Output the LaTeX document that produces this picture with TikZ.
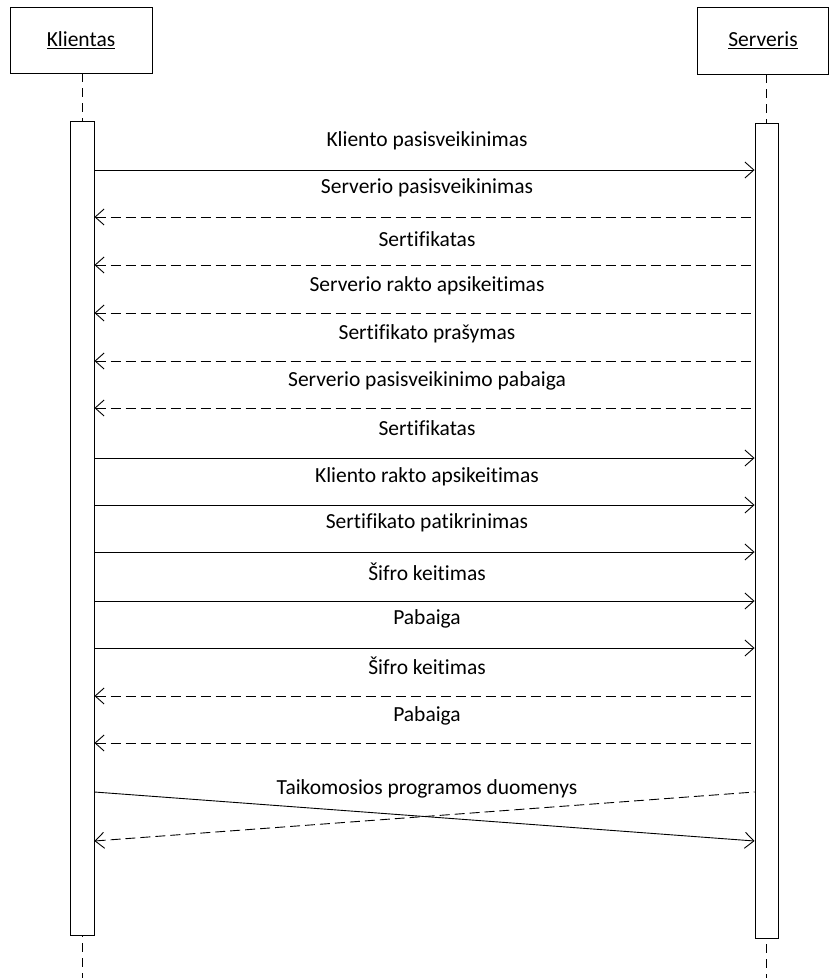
\documentclass[tikz,border=0pt]{standalone}
\usepackage{fontspec}
\setmainfont[Ligatures=NoCommon]{Carlito}
\usetikzlibrary{arrows.meta,positioning}

\begin{document}
\begin{tikzpicture}[
  x=1pt, y=-1pt,
  every node/.style={font=\fontsize{21.5}{25}\selectfont},
  actor/.style={draw, line width=0.9pt, inner sep=0pt},
  act/.style={draw, fill=white, line width=0.9pt, minimum width=24pt, inner sep=0pt},
  life/.style={line width=0.9pt, dash pattern=on 9pt off 6pt},
  lbl/.style={inner sep=0pt},
  req/.style={-{Straight Barb[length=9pt,width=16pt,line width=0.9pt]}, line width=0.9pt},
  resp/.style={{Straight Barb[length=9pt,width=16pt,line width=0.9pt]}-, line width=0.9pt, dash pattern=on 10pt off 5pt}
]
\useasboundingbox (0,0) rectangle (829,978);

% lifelines
\node[actor, minimum width=142pt, minimum height=66pt] (klientas) at (81,40) {\underline{Klientas}};
\node[actor, minimum width=131pt, minimum height=67pt] (serveris) at (763,40.5) {\underline{Serveris}};
\coordinate (kend) at (82,978);
\coordinate (send) at (766.5,978);
\draw[life] (klientas.south -| kend) -- (kend);
\draw[life] (serveris.south -| send) -- (send);
\node[act, minimum height=814pt] (kact) at (82,528) {};
\node[act, minimum width=23pt, minimum height=815pt] (sact) at (766.5,530.5) {};

% messages
\node[lbl] (l1) at (427,141) {Kliento pasisveikinimas};
\node[lbl] (l2) at (427,188) {Serverio pasisveikinimas};
\node[lbl] (l3) at (427,239) {Sertifikatas};
\node[lbl] (l4) at (427,286) {Serverio rakto apsikeitimas};
\node[lbl] (l5) at (427,334) {Sertifikato prašymas};
\node[lbl] (l6) at (427,381) {Serverio pasisveikinimo pabaiga};
\node[lbl] (l7) at (427,428) {Sertifikatas};
\node[lbl] (l8) at (427,477) {Kliento rakto apsikeitimas};
\node[lbl] (l9) at (427,523) {Sertifikato patikrinimas};
\node[lbl] (l10) at (427,572) {Šifro keitimas};
\node[lbl] (l11) at (427,619) {Pabaiga};
\node[lbl] (l12) at (427,666) {Šifro keitimas};
\node[lbl] (l13) at (427,716) {Pabaiga};
\node[lbl] (l14) at (427,789) {Taikomosios programos duomenys};

\coordinate (m1) at (0,170);
\coordinate (m2) at (0,217);
\coordinate (m3) at (0,265);
\coordinate (m4) at (0,313);
\coordinate (m5) at (0,361);
\coordinate (m6) at (0,408);
\coordinate (m7) at (0,458);
\coordinate (m8) at (0,505);
\coordinate (m9) at (0,552);
\coordinate (m10) at (0,601);
\coordinate (m11) at (0,648);
\coordinate (m12) at (0,696);
\coordinate (m13) at (0,743);
\coordinate (m14) at (0,792);
\coordinate (m15) at (0,841);

\draw[req] (kact.east |- m1) -- (sact.west |- m1);
\draw[resp] (kact.east |- m2) -- (sact.west |- m2);
\draw[resp] (kact.east |- m3) -- (sact.west |- m3);
\draw[resp] (kact.east |- m4) -- (sact.west |- m4);
\draw[resp] (kact.east |- m5) -- (sact.west |- m5);
\draw[resp] (kact.east |- m6) -- (sact.west |- m6);
\draw[req] (kact.east |- m7) -- (sact.west |- m7);
\draw[req] (kact.east |- m8) -- (sact.west |- m8);
\draw[req] (kact.east |- m9) -- (sact.west |- m9);
\draw[req] (kact.east |- m10) -- (sact.west |- m10);
\draw[req] (kact.east |- m11) -- (sact.west |- m11);
\draw[resp] (kact.east |- m12) -- (sact.west |- m12);
\draw[resp] (kact.east |- m13) -- (sact.west |- m13);
\draw[req] (kact.east |- m14) -- (sact.west |- m15);
\draw[resp] (kact.east |- m15) -- (sact.west |- m14);
\end{tikzpicture}
\end{document}
